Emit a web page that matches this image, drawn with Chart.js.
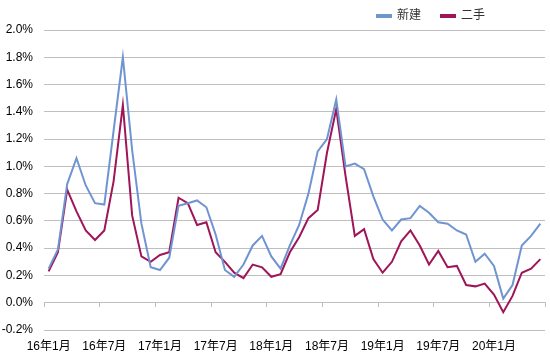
<!DOCTYPE html>
<html>
<head>
<meta charset="utf-8">
<script src="https://cdn.jsdelivr.net/npm/chart.js@4"></script>
<style>
html,body{margin:0;padding:0;background:#fff;}
#wrap{width:550px;height:358px;position:relative;}
</style>
</head>
<body>
<div id="wrap"><canvas id="c"></canvas></div>
<script>
const categories = [
  '16年1月','16年2月','16年3月','16年4月','16年5月','16年6月','16年7月','16年8月','16年9月','16年10月','16年11月','16年12月',
  '17年1月','17年2月','17年3月','17年4月','17年5月','17年6月','17年7月','17年8月','17年9月','17年10月','17年11月','17年12月',
  '18年1月','18年2月','18年3月','18年4月','18年5月','18年6月','18年7月','18年8月','18年9月','18年10月','18年11月','18年12月',
  '19年1月','19年2月','19年3月','19年4月','19年5月','19年6月','19年7月','19年8月','19年9月','19年10月','19年11月','19年12月',
  '20年1月','20年2月','20年3月','20年4月','20年5月','20年6月'
];
const seriesNames = ['新建', '二手'];
const newHome = [
  0.25,0.39,0.87,1.06,0.86,0.73,0.72,1.26,1.80,1.12,0.58,0.26,
  0.24,0.33,0.71,0.73,0.75,0.70,0.50,0.24,0.19,0.28,0.42,0.49,
  0.34,0.25,0.42,0.57,0.80,1.11,1.20,1.49,1.00,1.02,0.98,0.78,
  0.61,0.53,0.61,0.62,0.71,0.66,0.59,0.58,0.53,0.50,0.30,0.36,
  0.27,0.03,0.13,0.42,0.49,0.58
];
const resale = [
  0.23,0.37,0.83,0.67,0.53,0.46,0.53,0.89,1.45,0.64,0.34,0.30,
  0.35,0.37,0.77,0.73,0.57,0.59,0.37,0.30,0.22,0.18,0.28,0.26,
  0.19,0.21,0.37,0.48,0.62,0.68,1.10,1.42,0.93,0.49,0.54,0.32,
  0.22,0.30,0.45,0.53,0.42,0.28,0.38,0.26,0.27,0.13,0.12,0.14,
  0.06,-0.07,0.05,0.22,0.25,0.32
];
const yTicks = { min: -0.2, max: 2.0, step: 0.2 };
const labelEvery = 6;

const FONT = "'Liberation Sans', 'Noto Sans CJK SC', Arial, sans-serif";
const GRID = '#bfbfbf';
const BLUE = '#7094d2';
const RED = '#9e1558';

const legendPlace = {
  id: 'legendPlace',
  afterLayout(chart) {
    const lg = chart.legend;
    if (!lg) return;
    lg.left = 357;
    lg.top = -10;
  }
};

new Chart(document.getElementById('c'), {
  type: 'line',
  data: {
    labels: categories,
    datasets: [
      { label: seriesNames[0], data: newHome, borderColor: BLUE, backgroundColor: BLUE,
        borderWidth: 2, pointRadius: 0, tension: 0, xAxisID: 'x', yAxisID: 'y' },
      { label: seriesNames[1], data: resale, borderColor: RED, backgroundColor: RED,
        borderWidth: 2, pointRadius: 0, tension: 0, xAxisID: 'x', yAxisID: 'y' }
    ]
  },
  options: {
    responsive: true,
    maintainAspectRatio: false,
    animation: false,
    layout: { padding: { left: 2, right: 5, top: 0, bottom: 0 } },
    plugins: {
      tooltip: { enabled: false },
      legend: {
        position: 'top',
        align: 'start',
        maxHeight: 30,
        labels: {
          boxWidth: 14, boxHeight: 2, padding: 20,
          color: '#333',
          font: { family: FONT, size: 12 }
        }
      }
    },
    scales: {
      x: {
        type: 'category',
        position: 'bottom',
        offset: true,
        grid: { display: false, drawTicks: false },
        border: { display: false },
        afterFit: (s) => { s.height = 28; },
        ticks: {
          autoSkip: false, maxRotation: 0, minRotation: 0, padding: 9,
          color: '#000', font: { family: FONT, size: 12 },
          callback: function(v, i) { return i % labelEvery === 0 ? this.getLabelForValue(v) : ''; }
        }
      },
      x2: {
        type: 'category',
        position: { y: 0 },
        offset: true,
        ticks: { display: false, autoSkip: false },
        grid: {
          offset: true, drawOnChartArea: false, drawTicks: true, tickLength: 4,
          color: (ctx) => (ctx.type !== 'tick' || ctx.index % labelEvery === 0) ? GRID : 'rgba(0,0,0,0)',
          lineWidth: 1
        },
        border: { display: true, color: GRID, width: 1 }
      },
      y: {
        min: yTicks.min, max: yTicks.max,
        border: { display: false },
        grid: { color: GRID, lineWidth: 1, drawTicks: false },
        afterFit: (s) => { s.width = 42; },
        ticks: {
          stepSize: yTicks.step, padding: 11, color: '#000',
          font: { family: FONT, size: 12 },
          callback: (v) => (Math.round(v * 10) / 10).toFixed(1) + '%'
        }
      }
    }
  },
  plugins: [legendPlace]
});
</script>
</body>
</html>
